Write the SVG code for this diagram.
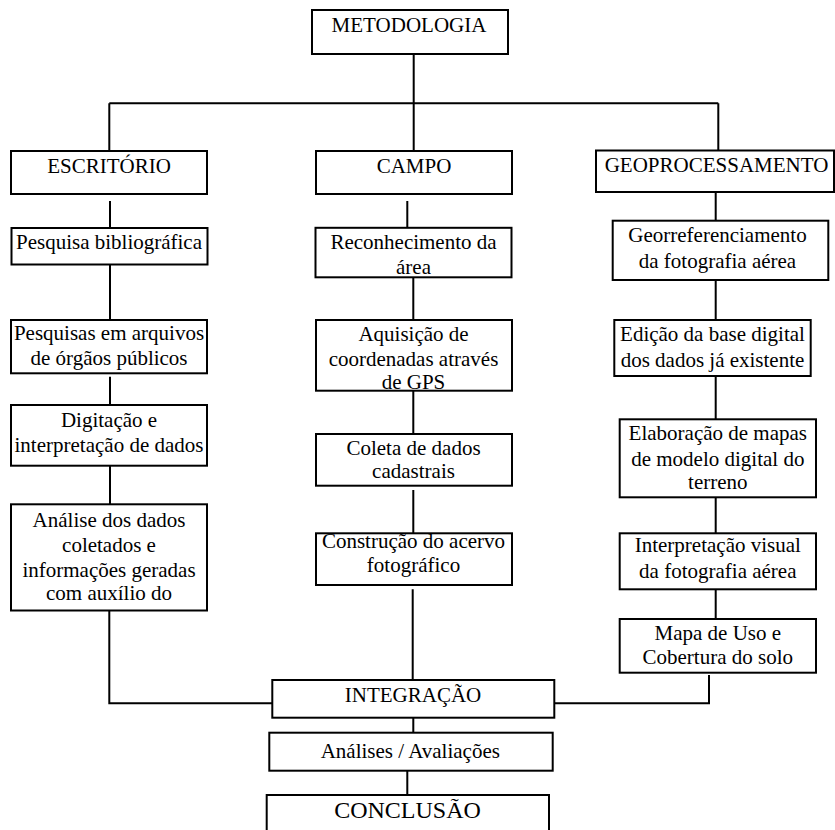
<svg xmlns="http://www.w3.org/2000/svg" width="835" height="830" viewBox="0 0 835 830">
<style>
.b{fill:#fff;stroke:#000;stroke-width:2}
.t{font-family:"Liberation Serif","Times New Roman",serif;font-size:21px;fill:#000;text-anchor:middle}
.big{font-size:24px}
.c{fill:none;stroke:#000;stroke-width:2}
</style>
<rect width="835" height="830" fill="#fff"/>
<g id="connectors">
<path class="c" d="M413.7 54V103.3M109.3 103.3H718.3M109.3 103.3V151M413.7 103.3V151M718.3 103.3V150.5"/>
<path class="c" d="M110 201V228M407.3 201V228M715.7 192V220.7"/>
<path class="c" d="M110 264.5V320M110 376.7V405M110 461.7V504.3"/>
<path class="c" d="M109.3 605V703.3H272.3"/>
<path class="c" d="M413.3 277.7V320M413.3 390.7V434M413.3 490V533.3M412.7 589.3V680"/>
<path class="c" d="M715.7 280V320M715.7 376V419.3M715.7 494V533.3M715.7 589.3V619"/>
<path class="c" d="M709 675V703.3H554.3"/>
<path class="c" d="M413.3 717.7V732.7M407.3 763.3V795"/>
</g>
<g id="metodologia"><rect class="b" x="312" y="10" width="196" height="44"/><text class="t" x="409" y="32">METODOLOGIA</text></g>
<g id="escritorio"><rect class="b" x="11" y="151" width="196" height="43"/><text class="t" x="109" y="172.7">ESCRITÓRIO</text></g>
<g id="campo"><rect class="b" x="316" y="151" width="196" height="43"/><text class="t" x="414" y="172.7">CAMPO</text></g>
<g id="geoprocessamento"><rect class="b" x="596" y="150.5" width="238" height="41.5"/><text class="t" x="716.5" y="171.7">GEOPROCESSAMENTO</text></g>
<g id="pesquisa-bibliografica"><rect class="b" x="11.5" y="228" width="196" height="36.5"/><text class="t" x="109" y="249">Pesquisa bibliográfica</text></g>
<g id="reconhecimento"><rect class="b" x="315.5" y="227.8" width="196" height="49.5"/><text class="t" x="413.5" y="248.5">Reconhecimento da</text><text class="t" x="413.5" y="273.5">área</text></g>
<g id="georreferenciamento"><rect class="b" x="612.7" y="220.7" width="215.6" height="59.3"/><text class="t" x="717.5" y="241.7">Georreferenciamento</text><text class="t" x="717.5" y="267.5">da fotografia aérea</text></g>
<g id="pesquisas-arquivos"><rect class="b" x="11" y="320" width="196" height="53.3"/><text class="t" x="109" y="340">Pesquisas em arquivos</text><text class="t" x="109" y="365">de órgãos públicos</text></g>
<g id="digitacao"><rect class="b" x="11" y="405" width="196" height="60.7"/><text class="t" x="109" y="426.7">Digitação e</text><text class="t" x="109" y="451.7">interpretação de dados</text></g>
<g id="analise"><rect class="b" x="11" y="504.3" width="196" height="106.2"/><text class="t" x="109" y="526.7">Análise dos dados</text><text class="t" x="109" y="552">coletados e</text><text class="t" x="109" y="577">informações geradas</text><text class="t" x="109" y="599.5">com auxílio do</text></g>
<g id="aquisicao"><rect class="b" x="316" y="320" width="196" height="70.7"/><text class="t" x="413.5" y="340.5">Aquisição de</text><text class="t" x="413.5" y="365.5">coordenadas através</text><text class="t" x="413.5" y="389.3">de GPS</text></g>
<g id="coleta"><rect class="b" x="316" y="434" width="196" height="51.7"/><text class="t" x="413.5" y="455">Coleta de dados</text><text class="t" x="413.5" y="478.3">cadastrais</text></g>
<g id="construcao"><rect class="b" x="316" y="533.3" width="196" height="51.7"/><text class="t" x="413.5" y="548.3">Construção do acervo</text><text class="t" x="413.5" y="571.7">fotográfico</text></g>
<g id="edicao"><rect class="b" x="614.3" y="320" width="196.4" height="56"/><text class="t" x="712.5" y="340.7">Edição da base digital</text><text class="t" x="712.5" y="366.7">dos dados já existente</text></g>
<g id="elaboracao"><rect class="b" x="619.7" y="419.3" width="196.3" height="78"/><text class="t" x="717.8" y="440">Elaboração de mapas</text><text class="t" x="717.8" y="465.7">de modelo digital do</text><text class="t" x="717.8" y="489.3">terreno</text></g>
<g id="interpretacao"><rect class="b" x="619.7" y="533.3" width="196.3" height="56"/><text class="t" x="717.8" y="552.3">Interpretação visual</text><text class="t" x="717.8" y="578.3">da fotografia aérea</text></g>
<g id="mapa"><rect class="b" x="619.7" y="619" width="196.3" height="53.7"/><text class="t" x="717.8" y="640">Mapa de Uso e</text><text class="t" x="717.8" y="664">Cobertura do solo</text></g>
<g id="integracao"><rect class="b" x="272.3" y="680" width="282" height="37.7"/><text class="t" x="413" y="701.7">INTEGRAÇÃO</text></g>
<g id="analises"><rect class="b" x="269.3" y="732.7" width="283.4" height="38"/><text class="t" x="410.3" y="758.3">Análises / Avaliações</text></g>
<g id="conclusao"><rect class="b" x="266.7" y="795" width="282.3" height="40"/><text class="t big" x="407.5" y="818.3">CONCLUSÃO</text></g>
</svg>
